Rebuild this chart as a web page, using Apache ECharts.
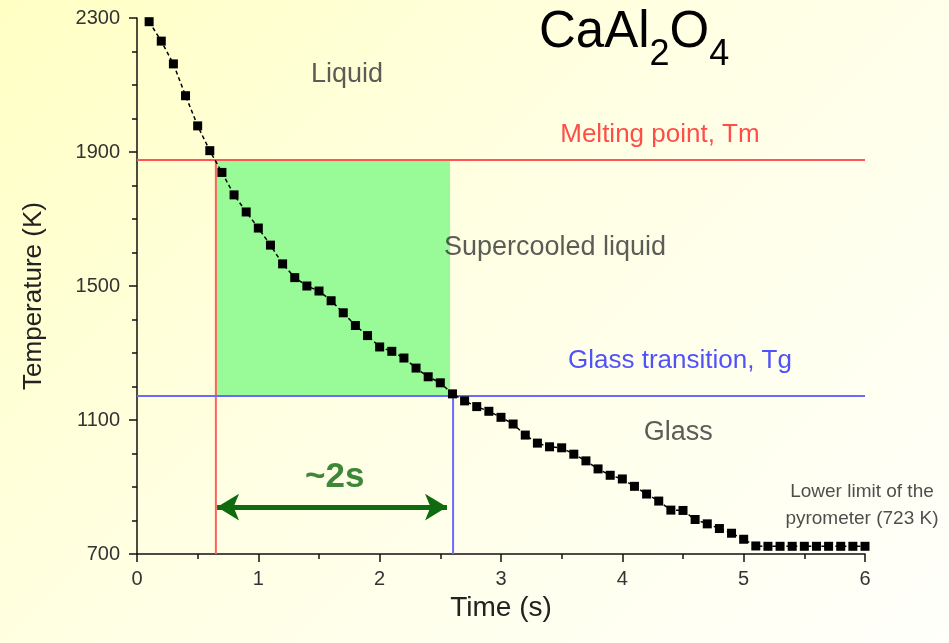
<!DOCTYPE html>
<html>
<head>
<meta charset="utf-8">
<script src="https://cdn.jsdelivr.net/npm/echarts@6/dist/echarts.min.js"></script>
<style>
html,body{margin:0;padding:0;}
#c{width:949px;height:643px;background:linear-gradient(135deg,#ffffc4 0%,#ffffe4 45%,#fffffb 100%);}
</style>
</head>
<body>
<div id="c"></div>
<script>
// Time (s)
var times = [0.1,0.2,0.3,0.4,0.5,0.6,0.7,0.8,0.9,1.0,
  1.1,1.2,1.3,1.4,1.5,1.6,1.7,1.8,1.9,2.0,
  2.1,2.2,2.3,2.4,2.5,2.6,2.7,2.8,2.9,3.0,
  3.1,3.2,3.3,3.4,3.5,3.6,3.7,3.8,3.9,4.0,
  4.1,4.2,4.3,4.4,4.5,4.6,4.7,4.8,4.9,5.0,
  5.1,5.2,5.3,5.4,5.5,5.6,5.7,5.8,5.9,6.0];
// Temperature (K)
var temps = [2289,2231,2163,2068,1978,1904,1839,1772,1721,1673,
  1622,1566,1525,1500,1485,1456,1420,1382,1352,1318,
  1305,1285,1255,1229,1211,1178,1157,1140,1126,1108,
  1088,1055,1031,1020,1017,998,978,954,935,924,
  902,879,858,831,830,803,790,776,762,744,
  724,723,723,723,723,723,723,723,723,723];

var meltT = 1876, meltTime = 0.65;
var glassT = 1172, glassTime = 2.605;
var superStart = 0.65, superEnd = 2.58;
var arrowStart = 0.66, arrowEnd = 2.555, arrowT = 840;

var xTicks = [0,1,2,3,4,5,6];
var yTicks = [700,1100,1500,1900,2300];

var labels = [
  {text:'Liquid', t:1.73, T:2130, color:'#333333', size:27},
  {text:'Melting point, Tm', t:4.31, T:1951, color:'#ff2020', size:26},
  {text:'Supercooled liquid', t:3.445, T:1616, color:'#333333', size:27},
  {text:'Glass transition, Tg', t:4.475, T:1276, color:'#2525ff', size:26},
  {text:'Glass', t:4.46, T:1064, color:'#333333', size:27},
  {text:'Lower limit of the\npyrometer (723 K)', t:5.975, T:846, color:'#222222', size:19},
  {text:'~2s', t:1.63, T:930, color:'#0e690e', size:35, bold:true}
];

var chart = echarts.init(document.getElementById('c'), null, {renderer:'canvas'});
var font = 'Liberation Sans, Arial, sans-serif';
var option = {
  backgroundColor:'transparent',
  animation:false,
  title:{
    text:'{m|CaAl}{s|2}{m|O}{s|4}',
    left:534, top:2,
    textStyle:{
      fontWeight:'normal',
      rich:{
        m:{fontSize:51, color:'#000', fontFamily:font, fontWeight:'normal', verticalAlign:'bottom'},
        s:{fontSize:36, color:'#000', fontFamily:font, fontWeight:'normal', verticalAlign:'bottom', padding:[0,0,-15,0]}
      }
    }
  },
  grid:{left:137, right:84, top:18, bottom:89, containLabel:false},
  xAxis:{
    type:'value', min:xTicks[0], max:xTicks[xTicks.length-1], interval:1,
    name:'Time (s)', nameLocation:'middle', nameGap:25,
    nameTextStyle:{fontSize:28, color:'#222', fontFamily:font},
    axisLine:{lineStyle:{color:'#111', width:1.5}},
    axisTick:{show:true, length:8, lineStyle:{color:'#111', width:1.5}},
    minorTick:{show:true, splitNumber:2, length:5, lineStyle:{color:'#111', width:1.5}},
    axisLabel:{fontSize:20, color:'#333', fontFamily:font, margin:15},
    splitLine:{show:false}
  },
  yAxis:{
    type:'value', min:yTicks[0], max:yTicks[yTicks.length-1], interval:400,
    name:'Temperature (K)', nameLocation:'middle', nameGap:90,
    nameTextStyle:{fontSize:26, color:'#222', fontFamily:font, padding:[0,20,0,0]},
    axisLine:{show:true, lineStyle:{color:'#111', width:1.5}},
    axisTick:{show:true, length:8, lineStyle:{color:'#111', width:1.5}},
    minorTick:{show:true, splitNumber:4, length:5, lineStyle:{color:'#111', width:1.5}},
    axisLabel:{fontSize:20, color:'#333', fontFamily:font, margin:17,
      formatter:function(v){return String(v);}},
    splitLine:{show:false}
  },
  series:[
    {
      type:'line', z:1, silent:true, symbol:'none',
      data:[],
      markArea:{
        silent:true,
        itemStyle:{color:'#98fb98', opacity:1},
        data:[[{coord:[superStart, meltT]},{coord:[superEnd, glassT]}]]
      }
    },
    {
      type:'line', z:2, symbol:'none', silent:true,
      lineStyle:{color:'#ff5555', width:2},
      data:[[xTicks[0], meltT],[xTicks[xTicks.length-1], meltT]]
    },
    {
      type:'line', z:2, symbol:'none', silent:true,
      lineStyle:{color:'#ff6060', width:2},
      data:[[meltTime, meltT],[meltTime, yTicks[0]]]
    },
    {
      type:'line', z:2, symbol:'none', silent:true,
      lineStyle:{color:'#6a6aff', width:2},
      data:[[xTicks[0], glassT],[xTicks[xTicks.length-1], glassT]]
    },
    {
      type:'line', z:2, symbol:'none', silent:true,
      lineStyle:{color:'#6a6aff', width:2},
      data:[[glassTime, glassT],[glassTime, yTicks[0]]]
    },
    {
      type:'line', z:3, symbol:'none', silent:true, data:[],
      markLine:{
        silent:true,
        symbol:['arrow','arrow'], symbolSize:[20,22],
        lineStyle:{color:'#106b10', width:5, type:'solid'},
        label:{show:false},
        data:[[{coord:[arrowStart, arrowT]},{coord:[arrowEnd, arrowT]}]]
      }
    },
    {
      type:'line', z:5, name:'CaAl2O4',
      data:times.map(function(t,i){return [t, temps[i]];}),
      symbol:'rect', symbolSize:9,
      itemStyle:{color:'#000'},
      lineStyle:{color:'#000', width:1.5, type:[4,3]}
    },
    {
      type:'scatter', z:6, symbolSize:0, silent:true,
      data:labels.map(function(l){
        return {
          value:[l.t, l.T],
          label:{show:true, position:'inside', formatter:l.text, color:l.color,
            fontSize:l.size, fontFamily:font, fontWeight:l.bold?'bold':'normal',
            lineHeight:Math.round(l.size*1.4), align:'center'}
        };
      })
    }
  ]
};
chart.setOption(option);
</script>
</body>
</html>
